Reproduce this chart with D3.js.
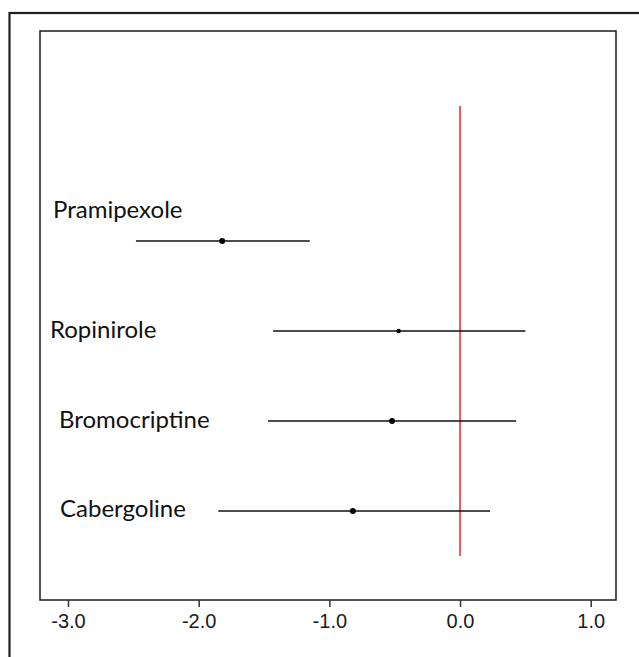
<!DOCTYPE html>
<html>
<head>
<meta charset="utf-8">
<script src="https://cdn.jsdelivr.net/npm/d3@7"></script>
<style>
  html, body { margin: 0; padding: 0; background: #fff; }
  svg { display: block; }
  .tick text { font-family: 'Liberation Sans', Arial, sans-serif; font-size: 20px; }
</style>
</head>
<body>
<svg id="chart" width="639" height="657"></svg>
<script>
// ---- data ----
const drugs    = ["Pramipexole", "Ropinirole", "Bromocriptine", "Cabergoline"];
const estimate = [-1.82, -0.47, -0.52, -0.82];
const lower    = [-2.48, -1.43, -1.47, -1.85];
const upper    = [-1.15, 0.50, 0.43, 0.23];
const weights  = [3, 2.2, 3, 3];
const rowIndex = [4, 3, 2, 1];
const xTicks   = [-3, -2, -1, 0, 1];
const refValue = 0;

// ---- layout ----
const svg = d3.select("#chart");
const box = { left: 40, top: 31, right: 616, bottom: 600 };

const x = d3.scaleLinear().domain([-3, 1]).range([68, 590.7]);
const y = d3.scaleLinear().domain([1, 4]).range([511, 241]);

// outer frame (cut off on right and bottom)
svg.append("rect")
  .attr("x", 9.5).attr("y", 13)
  .attr("width", 700).attr("height", 700)
  .attr("fill", "none").attr("stroke", "#231f20").attr("stroke-width", 2.2);

// inner plot box
svg.append("rect")
  .attr("x", box.left).attr("y", box.top)
  .attr("width", box.right - box.left).attr("height", box.bottom - box.top)
  .attr("fill", "none").attr("stroke", "#1a1a1a").attr("stroke-width", 1.5);

// x axis
const axis = d3.axisBottom(x).tickValues(xTicks).tickFormat(d => d.toFixed(1))
  .tickSize(7).tickPadding(7);
const gx = svg.append("g").attr("transform", `translate(0,${box.bottom})`).call(axis);
gx.attr("font-family", null).attr("font-size", null);
gx.select(".domain").remove();
gx.selectAll(".tick line").attr("stroke", "#333").attr("stroke-width", 1.5);
gx.selectAll(".tick text").attr("fill", "#1a1a1a");

// reference line
svg.append("line")
  .attr("x1", x(refValue)).attr("x2", x(refValue))
  .attr("y1", y(5.5)).attr("y2", y(0.5))
  .attr("stroke", "#f05a5a").attr("stroke-width", 2);

const rows = drugs.map((d, i) => ({
  name: d, est: estimate[i], lo: lower[i], hi: upper[i], w: weights[i], r: rowIndex[i]
}));

// CI lines
svg.selectAll("line.ci").data(rows).join("line")
  .attr("class", "ci")
  .attr("x1", d => x(d.lo)).attr("x2", d => x(d.hi))
  .attr("y1", d => y(d.r)).attr("y2", d => y(d.r))
  .attr("stroke", "#111").attr("stroke-width", 1.5);

// points
svg.selectAll("circle.pt").data(rows).join("circle")
  .attr("class", "pt")
  .attr("cx", d => x(d.est)).attr("cy", d => y(d.r))
  .attr("r", d => d.w)
  .attr("fill", "#000");

// labels
const labelPos = {
  "Pramipexole":   { x: 53, dy: -23 },
  "Ropinirole":    { x: 50, dy: 7 },
  "Bromocriptine": { x: 59, dy: 7 },
  "Cabergoline":   { x: 60, dy: 6 }
};
svg.selectAll("text.lbl").data(rows).join("text")
  .attr("class", "lbl")
  .attr("x", d => labelPos[d.name].x)
  .attr("y", d => y(d.r) + labelPos[d.name].dy)
  .attr("font-family", "Lato, 'Open Sans', sans-serif")
  .attr("font-size", 24)
  .attr("fill", "#111")
  .text(d => d.name);
</script>
</body>
</html>
